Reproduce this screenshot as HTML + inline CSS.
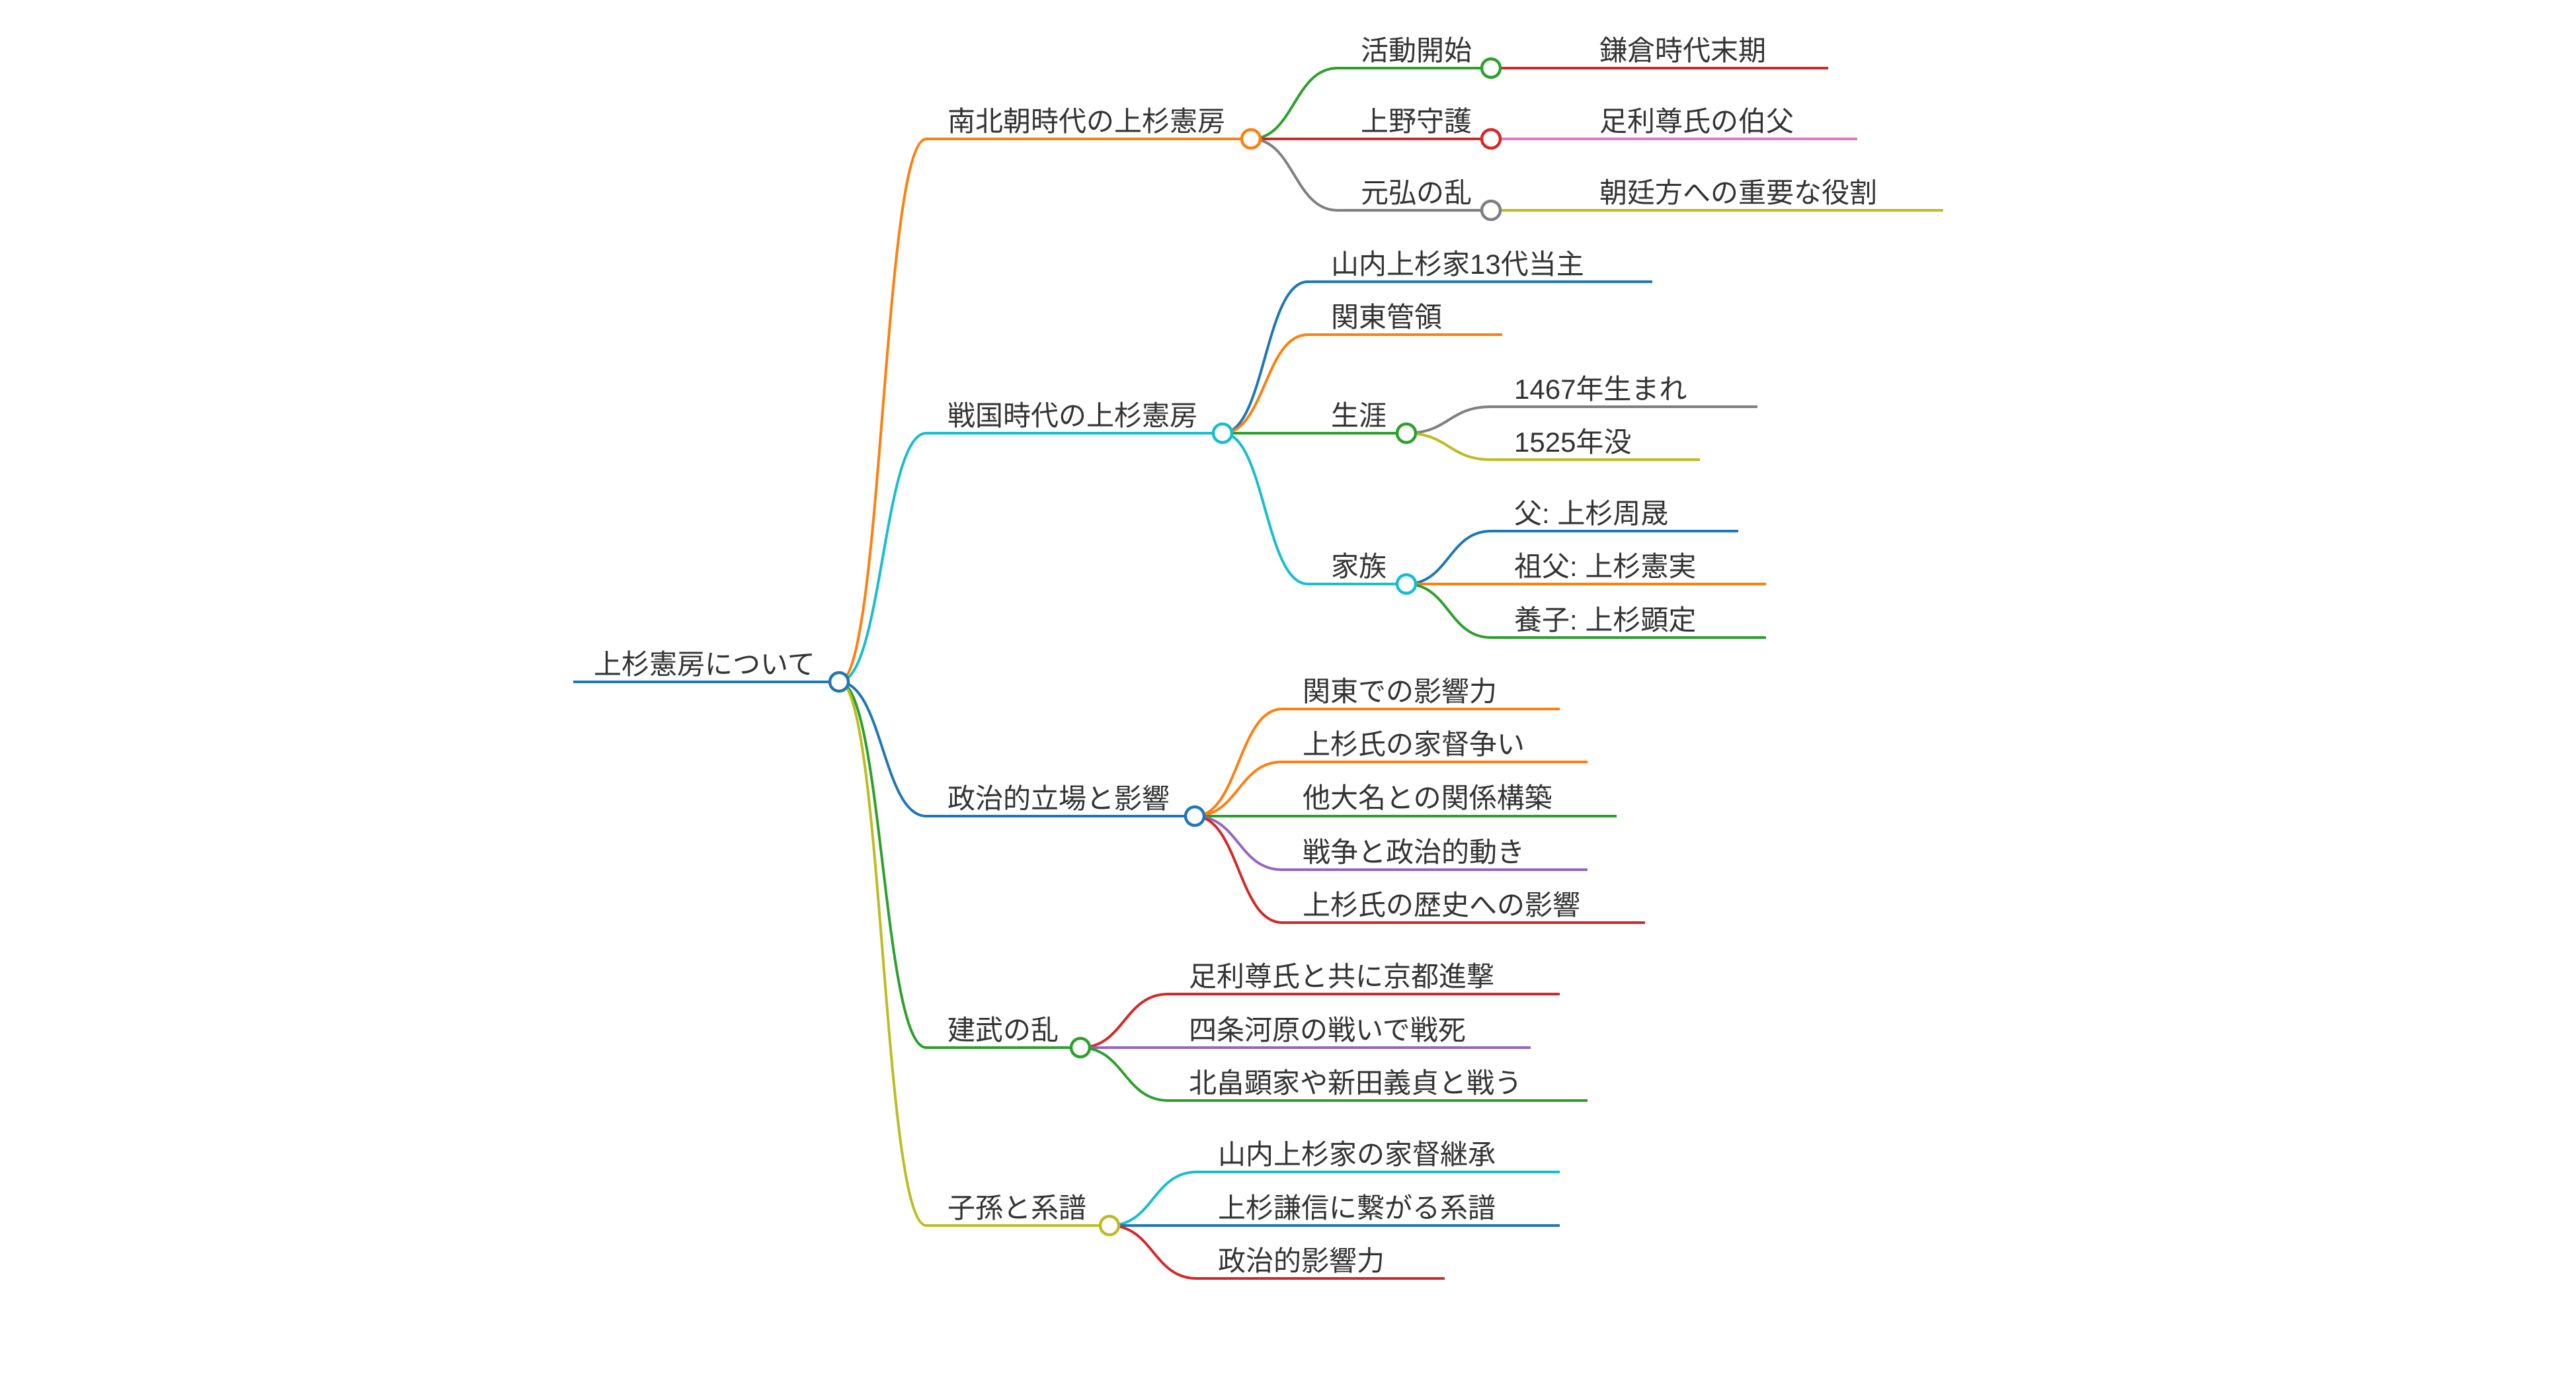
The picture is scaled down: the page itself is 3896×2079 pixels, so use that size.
<!DOCTYPE html>
<html><head><meta charset="utf-8"><style>
html,body{margin:0;padding:0;background:#fff}
svg{display:block}
text{font-family:"Liberation Sans","Noto Sans CJK JP",sans-serif;font-size:42px;fill:#333}
path{fill:none;stroke-width:4}
circle{fill:#fff;stroke-width:4.5}
</style></head><body>
<svg width="3896" height="2079" viewBox="0 0 3896 2079" xmlns="http://www.w3.org/2000/svg">
<!-- root -->
<path d="M867 1031 H1269" stroke="#1f77b4" stroke-width="5"/>
<path d="M1269 1031 C1335 1031 1335 210 1401 210 H1892" stroke="#ff7f0e"/>
<path d="M1269 1031 C1335 1031 1335 655 1401 655 H1849" stroke="#17becf"/>
<path d="M1269 1031 C1335 1031 1335 1234 1401 1234 H1807" stroke="#1f77b4"/>
<path d="M1269 1031 C1335 1031 1335 1584 1401 1584 H1634" stroke="#2ca02c"/>
<path d="M1269 1031 C1335 1031 1335 1853 1401 1853 H1678" stroke="#bcbd22"/>
<!-- 南北朝 -->
<path d="M1892 210 C1957 210 1957 103 2023 103 H2255" stroke="#2ca02c"/>
<path d="M1892 210 H2255" stroke="#d62728"/>
<path d="M1892 210 C1957 210 1957 318 2023 318 H2255" stroke="#7f7f7f"/>
<path d="M2255 103 H2765" stroke="#d62728"/>
<path d="M2255 210 H2809" stroke="#e377c2"/>
<path d="M2255 318 H2939" stroke="#bcbd22"/>
<!-- 戦国 -->
<path d="M1849 655 C1913 655 1913 426 1978 426 H2499" stroke="#1f77b4"/>
<path d="M1849 655 C1913 655 1913 506 1978 506 H2272" stroke="#ff7f0e"/>
<path d="M1849 655 H2127" stroke="#2ca02c"/>
<path d="M1849 655 C1913 655 1913 883 1978 883 H2127" stroke="#17becf"/>
<path d="M2127 655 C2191 655 2191 615 2255 615 H2658" stroke="#7f7f7f"/>
<path d="M2127 655 C2191 655 2191 695 2255 695 H2571" stroke="#bcbd22"/>
<path d="M2127 883 C2191 883 2191 803 2255 803 H2629" stroke="#1f77b4"/>
<path d="M2127 883 H2671" stroke="#ff7f0e"/>
<path d="M2127 883 C2191 883 2191 964 2255 964 H2671" stroke="#2ca02c"/>
<!-- 政治 -->
<path d="M1807 1234 C1873 1234 1873 1072 1939 1072 H2359" stroke="#ff7f0e"/>
<path d="M1807 1234 C1873 1234 1873 1152 1939 1152 H2401" stroke="#ff7f0e"/>
<path d="M1807 1234 H2445" stroke="#2ca02c"/>
<path d="M1807 1234 C1873 1234 1873 1315 1939 1315 H2401" stroke="#9467bd"/>
<path d="M1807 1234 C1873 1234 1873 1395 1939 1395 H2488" stroke="#d62728"/>
<!-- 建武 -->
<path d="M1634 1584 C1700 1584 1700 1503 1767 1503 H2359" stroke="#d62728"/>
<path d="M1634 1584 H2315" stroke="#9467bd"/>
<path d="M1634 1584 C1700 1584 1700 1664 1767 1664 H2401" stroke="#2ca02c"/>
<!-- 子孫 -->
<path d="M1678 1853 C1744 1853 1744 1772 1810 1772 H2359" stroke="#17becf"/>
<path d="M1678 1853 H2359" stroke="#1f77b4"/>
<path d="M1678 1853 C1744 1853 1744 1933 1810 1933 H2185" stroke="#d62728"/>
<!-- circles -->
<circle cx="1269" cy="1031" r="14" stroke="#1f77b4"/>
<circle cx="1892" cy="210" r="14" stroke="#ff7f0e"/>
<circle cx="1849" cy="655" r="14" stroke="#17becf"/>
<circle cx="1807" cy="1234" r="14" stroke="#1f77b4"/>
<circle cx="1634" cy="1584" r="14" stroke="#2ca02c"/>
<circle cx="1678" cy="1853" r="14" stroke="#bcbd22"/>
<circle cx="2255" cy="103" r="14" stroke="#2ca02c"/>
<circle cx="2255" cy="210" r="14" stroke="#d62728"/>
<circle cx="2255" cy="318" r="14" stroke="#7f7f7f"/>
<circle cx="2127" cy="655" r="14" stroke="#2ca02c"/>
<circle cx="2127" cy="883" r="14" stroke="#17becf"/>
<!-- labels -->
<text x="898" y="1019">上杉憲房について</text>
<text x="1433" y="198">南北朝時代の上杉憲房</text>
<text x="1433" y="643">戦国時代の上杉憲房</text>
<text x="1433" y="1222">政治的立場と影響</text>
<text x="1433" y="1572">建武の乱</text>
<text x="1433" y="1841">子孫と系譜</text>
<text x="2058" y="91">活動開始</text>
<text x="2058" y="198">上野守護</text>
<text x="2058" y="306">元弘の乱</text>
<text x="2419" y="91">鎌倉時代末期</text>
<text x="2419" y="198">足利尊氏の伯父</text>
<text x="2419" y="306">朝廷方への重要な役割</text>
<text x="2013" y="414">山内上杉家13代当主</text>
<text x="2013" y="494">関東管領</text>
<text x="2013" y="643">生涯</text>
<text x="2013" y="871">家族</text>
<text x="2290" y="603">1467年生まれ</text>
<text x="2290" y="683">1525年没</text>
<text x="2290" y="791">父: 上杉周晟</text>
<text x="2290" y="871">祖父: 上杉憲実</text>
<text x="2290" y="952">養子: 上杉顕定</text>
<text x="1970" y="1060">関東での影響力</text>
<text x="1970" y="1140">上杉氏の家督争い</text>
<text x="1970" y="1221">他大名との関係構築</text>
<text x="1970" y="1303">戦争と政治的動き</text>
<text x="1970" y="1383">上杉氏の歴史への影響</text>
<text x="1798" y="1491">足利尊氏と共に京都進撃</text>
<text x="1798" y="1572">四条河原の戦いで戦死</text>
<text x="1798" y="1652">北畠顕家や新田義貞と戦う</text>
<text x="1842" y="1760">山内上杉家の家督継承</text>
<text x="1842" y="1841">上杉謙信に繋がる系譜</text>
<text x="1842" y="1921">政治的影響力</text>
</svg>
</body></html>
